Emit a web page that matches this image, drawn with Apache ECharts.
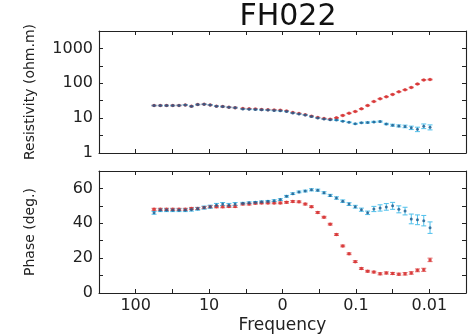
<!DOCTYPE html>
<html><head><meta charset="utf-8">
<script src="https://cdn.jsdelivr.net/npm/echarts@6/dist/echarts.min.js"></script>
<style>html,body{margin:0;padding:0;background:#fff}#c{width:470px;height:335px}</style>
</head><body><div id="c"></div>
<script>
// Frequencies (Hz)
const freq = [56.2, 46.2, 38.0, 31.3, 25.7, 21.1, 17.4, 14.3, 11.7, 9.66, 7.94, 6.53, 5.37, 4.42,
  3.47, 2.85, 2.34, 1.93, 1.58, 1.30, 1.07, 0.881, 0.724, 0.596, 0.490, 0.403, 0.331, 0.272, 0.224,
  0.184, 0.151, 0.124, 0.102, 0.0841, 0.0692, 0.0569, 0.0468, 0.0385, 0.0316, 0.0260, 0.0214,
  0.0176, 0.0145, 0.0119, 0.00977];
// Apparent resistivity (ohm.m)
const rhoRed = [23, 23, 23, 23, 23.2, 24, 21.8, 24.5, 25, 24, 22, 21.5, 20.5, 20,
  18.9, 18.5, 18.2, 17.7, 17.5, 17.2, 16.8, 16.0, 14.4, 13.5, 12.6, 11.4, 10.4, 9.7, 9.3,
  10.2, 12.0, 13.8, 15.5, 18.5, 23, 30, 36, 41, 48, 57, 65, 76, 95, 125, 128];
const rhoBlue = [23, 23, 23, 23, 23.2, 24, 21.8, 24.5, 25, 24, 22, 21.5, 20.5, 20,
  18.3, 18.0, 17.7, 17.4, 17.0, 16.6, 16.2, 15.6, 14.1, 13.2, 12.3, 11.1, 10.1, 9.4, 9.0,
  8.8, 8.2, 7.6, 6.9, 7.4, 7.5, 7.8, 8.0, 6.8, 6.3, 6.0, 5.8, 5.3, 4.8, 5.9, 5.5];
const rhoErrRed = [0.4, 0.4, 0.4, 0.4, 0.4, 0.4, 0.4, 0.4, 0.4, 0.4, 0.4, 0.4, 0.4, 0.4,
  0.3, 0.3, 0.3, 0.3, 0.3, 0.3, 0.3, 0.3, 0.3, 0.3, 0.2, 0.2, 0.2, 0.2, 0.2,
  0.2, 0.3, 0.3, 0.3, 0.4, 0.5, 0.6, 0.8, 0.9, 1.0, 1.2, 1.4, 1.7, 2.2, 3.0, 3.2];
const rhoErrBlue = [0.5, 0.5, 0.5, 0.5, 0.5, 0.5, 0.5, 0.5, 0.6, 0.5, 0.5, 0.5, 0.5, 0.5,
  0.4, 0.4, 0.4, 0.4, 0.4, 0.4, 0.3, 0.3, 0.3, 0.3, 0.3, 0.3, 0.2, 0.2, 0.2,
  0.2, 0.2, 0.2, 0.2, 0.2, 0.3, 0.3, 0.3, 0.3, 0.4, 0.4, 0.5, 0.6, 0.7, 0.9, 0.9];
// Phase (deg.)
const phaseRed = [48, 48, 48, 48, 48, 48, 48.5, 48.5, 49, 49.5, 49.5, 49.5, 49.7, 49.7,
  51, 51, 51.5, 51.7, 51.7, 51.7, 51.7, 52, 52.5, 52.3, 51, 49.5, 46.2, 43.5, 39.5,
  33.5, 27, 22.5, 18, 14, 12.5, 12, 11, 11.5, 11.2, 10.8, 11, 11.5, 13, 13.3, 19];
const phaseBlue = [46, 47.5, 47.5, 47.5, 47.5, 47.5, 47.8, 48.3, 49, 49.5, 50.5, 51, 50.5, 51,
  51.5, 51.8, 52, 52.3, 52.6, 53, 53.6, 55.5, 57, 58, 58.5, 59.2, 59, 57.5, 56,
  54.5, 52.7, 51, 49.5, 47.8, 46, 48.2, 48.8, 49.4, 50, 48, 47, 42.5, 42, 41.5, 37.5];
const phaseErrRed = [0.6, 0.6, 0.6, 0.6, 0.6, 0.6, 0.6, 0.6, 0.6, 0.6, 0.6, 0.6, 0.6, 0.6,
  0.5, 0.5, 0.5, 0.5, 0.5, 0.5, 0.5, 0.5, 0.5, 0.5, 0.5, 0.5, 0.5, 0.5, 0.5,
  0.5, 0.5, 0.5, 0.5, 0.5, 0.5, 0.5, 0.6, 0.6, 0.6, 0.6, 0.7, 0.7, 0.8, 0.9, 1.0];
const phaseErrBlue = [0.8, 0.8, 0.8, 0.8, 0.8, 0.8, 0.8, 0.8, 0.9, 0.9, 0.9, 0.9, 0.9, 0.9,
  0.5, 0.5, 0.5, 0.5, 0.5, 0.5, 0.5, 0.5, 0.5, 0.5, 0.5, 0.6, 0.6, 0.6, 0.6,
  0.7, 0.7, 0.8, 0.8, 0.9, 1.0, 1.5, 1.8, 1.9, 2.0, 2.0, 2.2, 2.8, 2.8, 3.0, 3.3];
// Tick labels
const xTickLabels = {'2': '100', '1': '10', '0': '0', '-1': '0.1', '-2': '0.01'};
const rhoTickLabels = {'0': '1', '1': '10', '2': '100', '3': '1000'};
const phaseTickLabels = {'0': '0', '20': '20', '40': '40', '60': '60'};

const FONT = 'DejaVu Sans';
const AX = '#222';
const RED = '#d42a2a', RED_BAR = '#e46a6a';
const BLUE = '#1d5a8c', BLUE_BAR = '#4fc0ec';

const lg = Math.log10;
const pts = (ys, tf) => freq.map((f, i) => [lg(f), tf(ys[i])]);
const bars = (ys, es, tf) => freq.map((f, i) => [lg(f), tf(Math.max(ys[i] - es[i], 1e-6)), tf(ys[i] + es[i])]);
const id = v => v;

function errRender(params, api) {
  const x = api.value(0);
  const p1 = api.coord([x, api.value(1)]);
  const p2 = api.coord([x, api.value(2)]);
  const w = 2.5;
  const style = {stroke: api.visual('color'), lineWidth: 1};
  return {type: 'group', children: [
    {type: 'line', shape: {x1: p1[0], y1: p1[1], x2: p2[0], y2: p2[1]}, style},
    {type: 'line', shape: {x1: p1[0] - w, y1: p1[1], x2: p1[0] + w, y2: p1[1]}, style},
    {type: 'line', shape: {x1: p2[0] - w, y1: p2[1], x2: p2[0] + w, y2: p2[1]}, style}
  ]};
}

const tick = {show: true, inside: true, length: 4, lineStyle: {color: AX, width: 1}};
const line = {show: true, onZero: false, lineStyle: {color: AX, width: 1.1}};
const lbl = {color: '#222', fontSize: 16, fontFamily: FONT};

function xAxis(grid, pos, labels, name) {
  const a = {type: 'value', gridIndex: grid, position: pos, min: -2.5, max: 2.5, interval: 0.5, inverse: true,
    axisLine: line, axisTick: tick, splitLine: {show: false},
    axisLabel: labels ? Object.assign({margin: 5, formatter: v => xTickLabels[String(v)] || ''}, lbl) : {show: false}};
  if (name) Object.assign(a, {name: name, nameLocation: 'middle', nameGap: 24,
    nameTextStyle: {color: '#222', fontSize: 17, fontFamily: FONT}});
  return a;
}
function yAxis(grid, pos, min, max, interval, labels, name) {
  const a = {type: 'value', gridIndex: grid, position: pos, min: min, max: max, interval: interval,
    axisLine: line, axisTick: tick, splitLine: {show: false},
    axisLabel: labels ? Object.assign({margin: 6, formatter: v => labels[String(v)] || ''}, lbl) : {show: false}};
  if (name) Object.assign(a, {name: name, nameLocation: 'middle', nameGap: 62,
    nameTextStyle: {color: '#222', fontSize: 14, fontFamily: FONT}});
  return a;
}

function scatter(xi, yi, data, color, size) {
  return {type: 'scatter', xAxisIndex: xi, yAxisIndex: yi, data: data, symbol: 'circle', symbolSize: size,
    itemStyle: {color: color}, silent: true, animation: false};
}
function errs(xi, yi, data, color) {
  return {type: 'custom', xAxisIndex: xi, yAxisIndex: yi, data: data, renderItem: errRender,
    itemStyle: {color: color}, silent: true, animation: false, encode: {x: 0, y: [1, 2]}};
}

const chart = echarts.init(document.getElementById('c'), null, {renderer: 'canvas'});
chart.setOption({
  backgroundColor: '#fff',
  animation: false,
  title: {text: 'FH022', left: 283, top: -3, textAlign: 'center',
    textStyle: {fontSize: 30, fontWeight: 'normal', fontFamily: FONT, color: '#111'}},
  grid: [
    {left: 99, top: 31, width: 367, height: 122},
    {left: 99, top: 171, width: 367, height: 123}
  ],
  xAxis: [
    xAxis(0, 'bottom', false), xAxis(0, 'top', false),
    xAxis(1, 'bottom', true, 'Frequency'), xAxis(1, 'top', false)
  ],
  yAxis: [
    yAxis(0, 'left', 0, 3.5, 0.5, rhoTickLabels, 'Resistivity (ohm.m)'), yAxis(0, 'right', 0, 3.5, 0.5, null),
    yAxis(1, 'left', 0, 70, 10, phaseTickLabels, 'Phase (deg.)'), yAxis(1, 'right', 0, 70, 10, null)
  ],
  series: [
    errs(0, 0, bars(rhoRed, rhoErrRed, lg), RED_BAR),
    scatter(0, 0, pts(rhoRed, lg), RED, 3.5),
    errs(0, 0, bars(rhoBlue, rhoErrBlue, lg), BLUE_BAR),
    scatter(0, 0, pts(rhoBlue, lg), BLUE, 3),
    errs(2, 2, bars(phaseRed, phaseErrRed, id), RED_BAR),
    scatter(2, 2, pts(phaseRed, id), RED, 3.5),
    errs(2, 2, bars(phaseBlue, phaseErrBlue, id), BLUE_BAR),
    scatter(2, 2, pts(phaseBlue, id), BLUE, 3)
  ]
});
</script></body></html>
